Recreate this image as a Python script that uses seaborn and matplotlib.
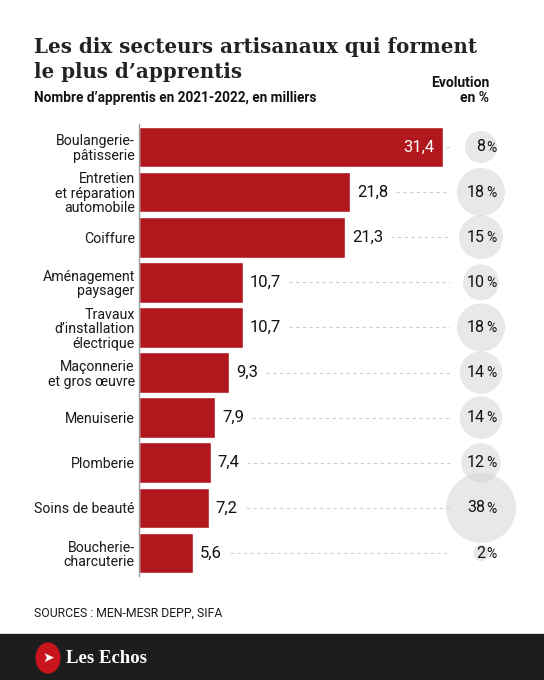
import matplotlib
matplotlib.use("Agg")
import matplotlib.pyplot as plt
import seaborn as sns
import numpy as np
import pandas as pd
from matplotlib.patches import Rectangle, Circle

# Data
categories = [
    "Boulangerie-\npâtisserie",
    "Entretien\net réparation\nautomobile",
    "Coiffure",
    "Aménagement\npaysager",
    "Travaux\nd’installation\nélectrique",
    "Maçonnerie\net gros œuvre",
    "Menuiserie",
    "Plomberie",
    "Soins de beauté",
    "Boucherie-\ncharcuterie",
]
apprentis = [31.4, 21.8, 21.3, 10.7, 10.7, 9.3, 7.9, 7.4, 7.2, 5.6]
evolution = [8, 18, 15, 10, 18, 14, 14, 12, 38, 2]

df = pd.DataFrame({"secteur": categories, "apprentis": apprentis, "evolution": evolution})

W, H = 544, 680
red = "#b0181d"
sans = ["Roboto", "DejaVu Sans"]

sns.set_style("white")
plt.rcParams["font.family"] = sans

fig = plt.figure(figsize=(W / 100, H / 100), dpi=100)
fig.patch.set_facecolor("white")

# axes: x from 139 px to 544 px, rows from 124 px to 576 px
px_per_unit = 9.68
ax_left, ax_right = 139, 544
ax_top, ax_bot = 124.4, 575.6
ax = fig.add_axes([ax_left / W, 1 - ax_bot / H, (ax_right - ax_left) / W, (ax_bot - ax_top) / H])
ax.set_facecolor("none")

sns.barplot(data=df, x="apprentis", y="secteur", color=red, orient="h",
            width=0.9, saturation=1, ax=ax, zorder=3)
ax.set_xlim(0, (ax_right - ax_left) / px_per_unit)
ax.set_ylim(len(df) - 0.5, -0.5)
ax.set_xlabel("")
ax.set_ylabel("")
ax.set_xticks([])
for s in ["top", "right", "bottom"]:
    ax.spines[s].set_visible(False)
ax.spines["left"].set_color("#9a9a9a")
ax.spines["left"].set_linewidth(1.0)
ax.spines["left"].set_zorder(4)
ax.tick_params(axis="y", length=0, pad=3)
ax.set_yticks(range(len(df)))
ax.set_yticklabels(df["secteur"], fontsize=10.2, color="#1a1a1a", linespacing=1.05)

circle_x = (481 - ax_left) / px_per_unit
dash_end = (450 - ax_left) / px_per_unit
renderer = fig.canvas.get_renderer()
inv = ax.transData.inverted()

for i, row in df.iterrows():
    v = row["apprentis"]
    label = f"{v:.1f}".replace(".", ",")
    if i == 0:
        ax.annotate(label, (v, i), xytext=(-6, 0), textcoords="offset points",
                    ha="right", va="center", fontsize=12, color="white", zorder=5)
        start = v + 3 / px_per_unit
    else:
        t = ax.annotate(label, (v, i), xytext=(5, 0), textcoords="offset points",
                        ha="left", va="center", fontsize=12, color="#111111", zorder=5)
        bb = t.get_window_extent(renderer)
        start = inv.transform((bb.x1, 0))[0] + 8 / px_per_unit
    ax.plot([start, dash_end], [i, i], color="#cfcfcf", lw=0.8,
            dashes=(3, 3), zorder=1, clip_on=False)

# evolution circles (area proportional to value)
ax.scatter([circle_x] * len(df), range(len(df)), s=np.array(evolution) * 66.8,
           color="#d0d0d0", alpha=0.48, linewidths=0, zorder=2, clip_on=False)
for i, e in enumerate(evolution):
    ax.annotate(str(e), (circle_x, i), xytext=(3, 0), textcoords="offset points",
                ha="right", va="center", fontsize=11.5, color="#111111", zorder=5)
    ax.annotate("%", (circle_x, i), xytext=(3.6, -0.5), textcoords="offset points",
                ha="left", va="center", fontsize=10, color="#111111", zorder=5)

# titles
fig.text(34 / W, 1 - 53 / H, "Les dix secteurs artisanaux qui forment",
         fontsize=14.3, fontweight="bold", family="DejaVu Serif", color="#222222", va="baseline")
fig.text(34 / W, 1 - 78 / H, "le plus d’apprentis",
         fontsize=14.3, fontweight="bold", family="DejaVu Serif", color="#222222", va="baseline")
fig.text(34 / W, 1 - 102 / H, "Nombre d’apprentis en 2021-2022, en milliers",
         fontsize=9.85, fontweight="bold", color="#111111", va="baseline")
fig.text(489 / W, 1 - 87 / H, "Evolution", fontsize=10, fontweight="bold",
         color="#111111", ha="right", va="baseline")
fig.text(489 / W, 1 - 102 / H, "en %", fontsize=10, fontweight="bold",
         color="#111111", ha="right", va="baseline")

fig.text(34 / W, 1 - 617 / H, "SOURCES : MEN-MESR DEPP, SIFA",
         fontsize=8.8, color="#1a1a1a", va="baseline")

# footer band
fig.patches.append(Rectangle((0, 0), 1, 46 / H, transform=fig.transFigure,
                             facecolor="#1d1d1d", edgecolor="none"))
fig.patches.append(Rectangle((0, 46 / H), 1, 1 / H, transform=fig.transFigure,
                             facecolor="#d8d8d8", edgecolor="none"))
fig.patches.append(Circle((48 / W, 1 - 658 / H), 12.5 / W, transform=fig.transFigure,
                          facecolor="#c8141c", edgecolor="none"))
fig.text(48 / W, 1 - 658 / H, "➤", fontsize=10, color="white", ha="center",
         va="center", family=["DejaVu Sans"])
fig.text(66 / W, 1 - 663 / H, "Les Echos", fontsize=13.5, fontweight="bold",
         family="Liberation Serif", color="white", va="baseline")

fig.savefig("out.png", dpi=100)
